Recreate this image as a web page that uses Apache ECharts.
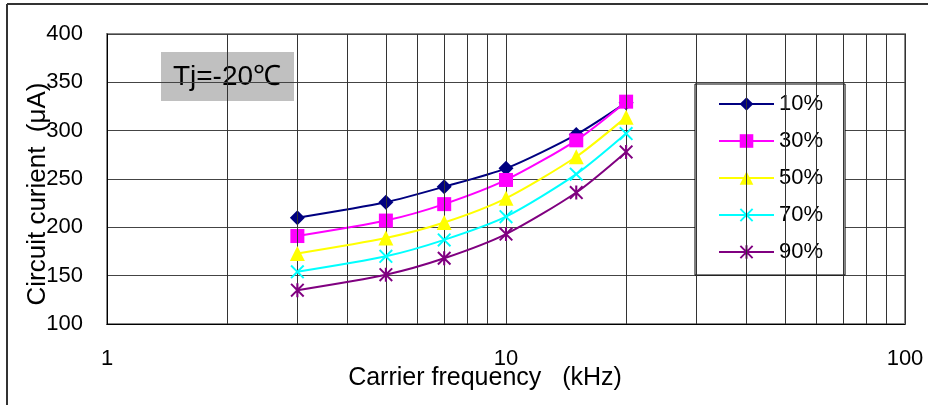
<!DOCTYPE html>
<html>
<head>
<meta charset="utf-8">
<script src="https://cdn.jsdelivr.net/npm/echarts@6/dist/echarts.min.js"></script>
<style>
  html, body { margin: 0; padding: 0; background: #fff; }
  #chart { width: 928px; height: 405px; }
</style>
</head>
<body>
<div id="chart"></div>
<script>
// Carrier frequency (kHz)
const freq = [3, 5, 7, 10, 15, 20];

// Circuit current (uA) per duty
const duty10 = [210, 226, 242, 261, 296, 329];
const duty30 = [191, 207, 224, 249, 290, 330];
const duty50 = [173, 189, 205, 230, 273, 314];
const duty70 = [154, 170, 187, 211, 255, 297];
const duty90 = [135, 151, 168, 193, 236, 278];

const seriesNames = ['10%', '30%', '50%', '70%', '90%'];

// minor vertical grid lines of the log axis
const minorGrid = [2, 3, 4, 5, 6, 7, 8, 9, 20, 30, 40, 50, 60, 70, 80, 90];

const FONT = '"Liberation Sans", Arial, sans-serif';

const crossPath = 'path://M0,2 L2,0 L10,8 L18,0 L20,2 L12,10 L20,18 L18,20 L10,12 L2,20 L0,18 L8,10 Z';
const starPath = 'path://M0,2 L2,0 L10,8 L18,0 L20,2 L12,10 L20,18 L18,20 L10,12 L2,20 L0,18 L8,10 Z M8.5,0 L11.5,0 L11.5,20 L8.5,20 Z';

const styles = [
  { color: '#000080', symbol: 'diamond', size: 15 },
  { color: '#ff00ff', symbol: 'rect', size: 14 },
  { color: '#ffff00', symbol: 'triangle', size: 15 },
  { color: '#00ffff', symbol: crossPath, size: 14 },
  { color: '#800080', symbol: starPath, size: 14 },
];

const values = [duty10, duty30, duty50, duty70, duty90];

const chart = echarts.init(document.getElementById('chart'));

const series = values.map((vals, i) => ({
  name: seriesNames[i],
  type: 'line',
  smooth: 0.25,
  symbol: styles[i].symbol,
  symbolSize: styles[i].size,
  lineStyle: { width: 2, color: styles[i].color },
  itemStyle: { color: styles[i].color },
  data: freq.map((f, j) => [f, vals[j]]),
  z: 3 + i,
}));

// carrier for minor grid lines
series.unshift({
  name: 'grid',
  type: 'line',
  data: [],
  silent: true,
  z: 1,
  markLine: {
    silent: true,
    symbol: 'none',
    label: { show: false },
    animation: false,
    lineStyle: { color: '#333', width: 1, type: 'solid' },
    data: minorGrid.map(v => ({ xAxis: v })),
  },
});

chart.setOption({
  animation: false,
  textStyle: { fontFamily: FONT },
  grid: {
    left: 107, right: 23, top: 34, bottom: 81,
    show: true, borderColor: '#888', borderWidth: 2,
  },
  legend: {
    data: seriesNames,
    orient: 'vertical',
    left: 695,
    top: 84,
    padding: [9, 22, 12, 23],
    itemWidth: 55,
    itemHeight: 17,
    itemGap: 15,
    backgroundColor: '#fff',
    borderColor: '#000',
    borderWidth: 1,
    borderRadius: 0,
    textStyle: { fontSize: 22, lineHeight: 22, color: '#000', fontFamily: FONT },
  },
  xAxis: {
    type: 'log',
    logBase: 10,
    min: 1,
    max: 100,
    axisLine: { show: true, lineStyle: { color: '#000', width: 1 } },
    axisTick: { show: false },
    axisLabel: { color: '#000', fontSize: 22, margin: 24, fontFamily: FONT },
    splitLine: { show: true, lineStyle: { color: '#333', width: 1 } },
  },
  yAxis: {
    type: 'value',
    min: 100,
    max: 400,
    interval: 50,
    axisLine: { show: true, lineStyle: { color: '#000', width: 1 } },
    axisTick: { show: false },
    axisLabel: { color: '#000', fontSize: 22, margin: 24, fontFamily: FONT },
    splitLine: { show: true, lineStyle: { color: '#444', width: 1 } },
  },
  graphic: [
    // outer frame (top and left)
    { type: 'line', shape: { x1: 7, y1: 4, x2: 928, y2: 4 }, style: { stroke: '#333', lineWidth: 2 }, silent: true },
    { type: 'line', shape: { x1: 7, y1: 4, x2: 7, y2: 405 }, style: { stroke: '#333', lineWidth: 2 }, silent: true },
    // temperature box
    {
      type: 'group', left: 161, top: 52, z: 10,
      children: [
        { type: 'rect', shape: { x: 0, y: 0, width: 133, height: 49 }, style: { fill: '#c0c0c0' } },
        { type: 'text', x: 66, y: 25, style: { text: 'Tj=-20℃', fontSize: 28, fontFamily: FONT, fill: '#000', align: 'center', verticalAlign: 'middle' } },
      ],
    },
    // axis titles
    {
      type: 'text', x: 485, y: 378, z: 10,
      style: { text: 'Carrier frequency   (kHz)', fontSize: 25, fontFamily: FONT, fill: '#000', align: 'center', verticalAlign: 'middle' },
    },
    {
      type: 'text', x: 38, y: 194, rotation: Math.PI / 2, z: 10,
      style: { text: 'Circuit curient  (μA)', fontSize: 26, fontFamily: FONT, fill: '#000', align: 'center', verticalAlign: 'middle' },
    },
  ],
  series,
});
</script>
</body>
</html>
